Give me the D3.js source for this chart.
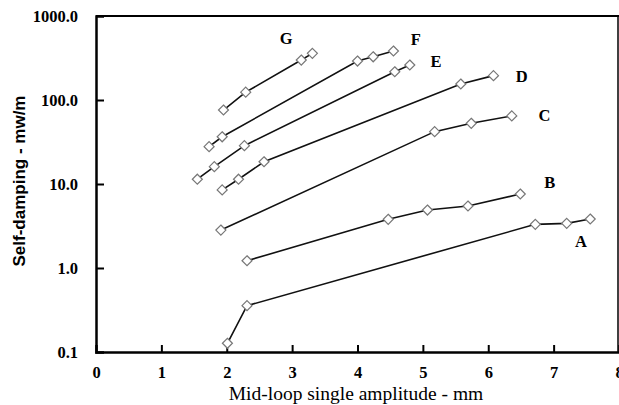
<!DOCTYPE html>
<html>
<head>
<meta charset="utf-8">
<script src="https://cdn.jsdelivr.net/npm/d3@7"></script>
<style>
  body { margin: 0; background: #fff; }
  svg { display: block; }
  .tick-label { font-family: "Liberation Serif", "Times New Roman", serif; font-weight: bold; font-size: 16.5px; }
  .series-label { font-family: "Liberation Serif", "Times New Roman", serif; font-weight: bold; font-size: 16.5px; }
</style>
</head>
<body>
<div id="chart"></div>
<script>
// Series data (x = amplitude mm, y = self-damping mw/m)
const seriesNames = ['A', 'B', 'C', 'D', 'E', 'F', 'G'];
const xA = [2.01, 2.31, 6.72, 7.20, 7.56];
const yA = [0.127, 0.356, 3.31, 3.40, 3.83];
const xB = [2.31, 4.47, 5.07, 5.69, 6.49];
const yB = [1.22, 3.80, 4.90, 5.47, 7.60];
const xC = [1.91, 5.18, 5.74, 6.36];
const yC = [2.83, 42, 52.8, 64.6];
const xD = [1.93, 2.18, 2.57, 5.58, 6.08];
const yD = [8.5, 11.4, 18.4, 155, 195];
const xE = [1.55, 1.81, 2.27, 4.57, 4.80];
const yE = [11.4, 16.1, 28.6, 217, 261];
const xF = [1.73, 1.93, 4.00, 4.24, 4.55];
const yF = [27.8, 36.5, 291, 327, 383];
const xG = [1.95, 2.29, 3.14, 3.31];
const yG = [76, 124, 299, 359];

// where each curve's letter sits (data units)
const labelX = [7.42, 6.94, 6.86, 6.51, 5.20, 4.89, 2.91];
const labelY = [2.04, 10.3, 64.6, 188, 291, 518, 547];

const xTicks = [0, 1, 2, 3, 4, 5, 6, 7, 8];
const yTicks = [0.1, 1, 10, 100, 1000];
const yTickLabels = ['0.1', '1.0', '10.0', '100.0', '1000.0'];

const allX = [xA, xB, xC, xD, xE, xF, xG];
const allY = [yA, yB, yC, yD, yE, yF, yG];

const W = 619, H = 405;
const plotLeft = 96, plotRight = 619, plotTop = 16, plotBottom = 352;

const svg = d3.select('#chart').append('svg')
    .attr('width', W)
    .attr('height', H);

const x = d3.scaleLinear().domain([0, 8]).range([plotLeft, plotRight]);
const y = d3.scaleLog().domain([0.1, 1000]).range([plotBottom, plotTop]);

// frame: top and right borders
svg.append('line')
    .attr('x1', plotLeft).attr('x2', plotRight)
    .attr('y1', plotTop).attr('y2', plotTop)
    .attr('stroke', '#000').attr('stroke-width', 2);
svg.append('line')
    .attr('x1', plotRight - 1).attr('x2', plotRight - 1)
    .attr('y1', plotTop).attr('y2', plotBottom)
    .attr('stroke', '#000').attr('stroke-width', 1.5);

// axes, ticks pointing inward
const xAxis = svg.append('g')
    .attr('transform', `translate(0,${plotBottom})`)
    .call(d3.axisBottom(x).tickValues(xTicks).tickSize(-7).tickPadding(14).tickFormat(d3.format('d')));
const yAxis = svg.append('g')
    .attr('transform', `translate(${plotLeft},0)`)
    .call(d3.axisLeft(y).tickValues(yTicks).tickSize(-8).tickPadding(18)
        .tickFormat((d, i) => yTickLabels[i]));

[xAxis, yAxis].forEach(g => {
    g.select('.domain').attr('stroke', '#000').attr('stroke-width', 2.5);
    g.selectAll('.tick line').attr('stroke', '#000').attr('stroke-width', 2);
    g.selectAll('.tick text').attr('class', 'tick-label').attr('fill', '#000');
});
xAxis.selectAll('.tick line').filter(d => d === 0 || d === 8).remove();
yAxis.selectAll('.tick line').filter(d => d === 0.1 || d === 1000).remove();
yAxis.selectAll('.tick text').attr('dy', '0.36em');

// series lines and diamond markers
const line = d3.line().x(d => x(d[0])).y(d => y(d[1]));
const diamond = d3.symbol().type(d3.symbolDiamond2).size(64);

seriesNames.forEach((name, i) => {
    const pts = allX[i].map((v, j) => [v, allY[i][j]]);
    svg.append('path')
        .datum(pts)
        .attr('d', line)
        .attr('fill', 'none')
        .attr('stroke', '#111')
        .attr('stroke-width', 1.6);
    svg.selectAll(`.pt-${name}`)
        .data(pts)
        .enter()
        .append('path')
        .attr('class', `pt-${name}`)
        .attr('transform', d => `translate(${x(d[0])},${y(d[1])})`)
        .attr('d', diamond)
        .attr('fill', '#fff')
        .attr('stroke', '#777')
        .attr('stroke-width', 1.2);
    svg.append('text')
        .attr('class', 'series-label')
        .attr('x', x(labelX[i]))
        .attr('y', y(labelY[i]))
        .attr('text-anchor', 'middle')
        .attr('dominant-baseline', 'central')
        .text(name);
});

// axis titles
svg.append('text')
    .attr('x', 356)
    .attr('y', 400)
    .attr('text-anchor', 'middle')
    .style('font-family', '"Liberation Serif", "Times New Roman", serif')
    .style('font-size', '19.5px')
    .text('Mid-loop single amplitude - mm');

svg.append('text')
    .attr('transform', 'translate(25,181) rotate(-90)')
    .attr('text-anchor', 'middle')
    .style('font-family', '"Liberation Sans", Arial, sans-serif')
    .style('font-weight', 'bold')
    .style('font-size', '17px')
    .text('Self-damping - mw/m');
</script>
</body>
</html>
